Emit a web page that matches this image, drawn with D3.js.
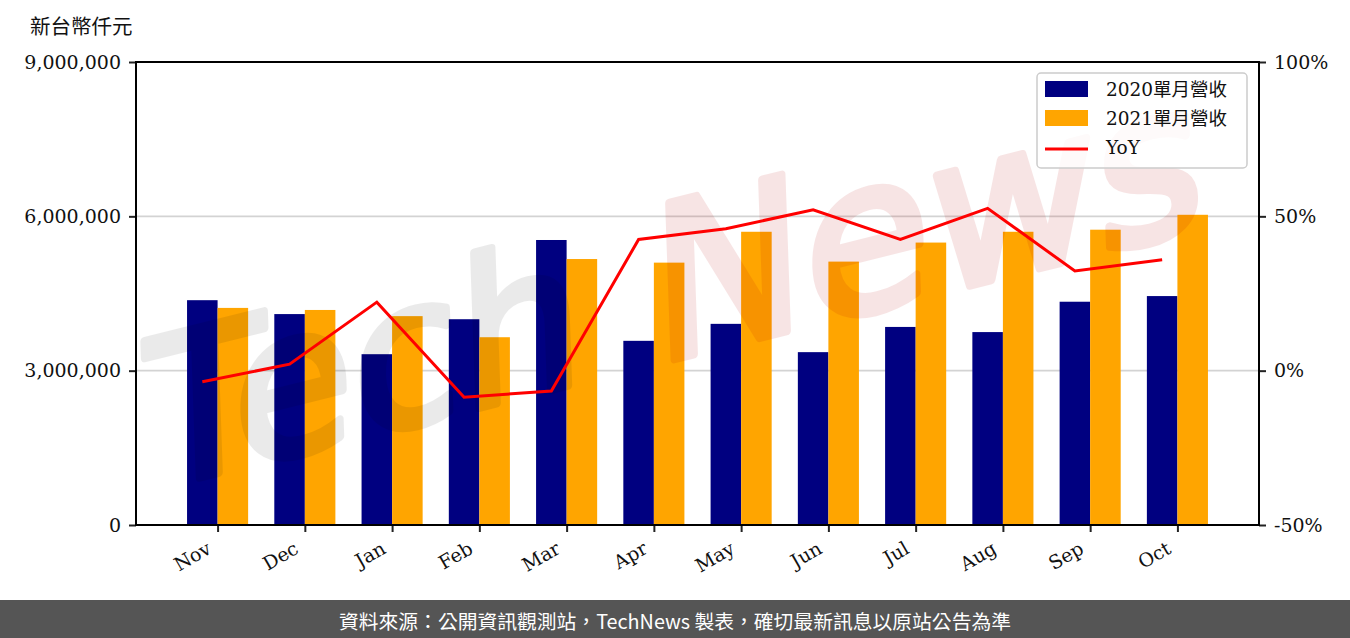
<!DOCTYPE html>
<html>
<head>
<meta charset="utf-8">
<script src="https://d3js.org/d3.v7.min.js"></script>
<style>
    body { margin: 0; background: #fff; }
    #chart text { font-family: "DejaVu Serif", "Noto Sans CJK TC", serif; }
</style>
</head>
<body>
<div id="chart"></div>
<script>
// monthly revenue, thousand NTD
var months = ['Nov','Dec','Jan','Feb','Mar','Apr','May','Jun','Jul','Aug','Sep','Oct'];
var rev2020 = [4370000, 4100000, 3320000, 4000000, 5540000, 3580000, 3910000, 3360000, 3850000, 3750000, 4340000, 4450000];
var rev2021 = [4220000, 4180000, 4060000, 3650000, 5170000, 5100000, 5700000, 5120000, 5490000, 5700000, 5740000, 6030000];
var yoy = [-3.6, 2.1, 22.2, -8.6, -6.6, 42.5, 46.0, 52.1, 42.5, 52.6, 32.3, 35.9];
var leftTicks = [0, 3000000, 6000000, 9000000];
var rightTicks = [-50, 0, 50, 100];
var seriesNames = ['2020單月營收', '2021單月營收', 'YoY'];

var width = 1350, height = 638;
var svg, x, yL, yR;
var barW = 0.35;

function init() {
    svg = d3.select('#chart').append('svg')
        .attr('width', width)
        .attr('height', height);

    x = d3.scaleLinear().domain([-0.935, 11.935]).range([136, 1259]);
    yL = d3.scaleLinear().domain([0, 9000000]).range([525, 62]);
    yR = d3.scaleLinear().domain([-50, 100]).range([525, 62]);

    drawGrid();
    drawBars();
    drawWatermark();
    drawLine();
    drawAxes();
    drawLegend();
    drawFooter();
}

function drawGrid() {
    svg.append('g').selectAll('line')
        .data(leftTicks)
        .enter().append('line')
        .attr('x1', 136).attr('x2', 1259)
        .attr('y1', d => yL(d)).attr('y2', d => yL(d))
        .attr('stroke', '#d3d3d3')
        .attr('stroke-width', 1.6);
}

function drawBars() {
    var g = svg.append('g');
    g.selectAll('.b20').data(rev2020).enter().append('rect')
        .attr('x', (d, i) => x(i - barW))
        .attr('width', x(barW) - x(0))
        .attr('y', d => yL(d))
        .attr('height', d => yL(0) - yL(d))
        .attr('fill', '#000080');
    g.selectAll('.b21').data(rev2021).enter().append('rect')
        .attr('x', (d, i) => x(i))
        .attr('width', x(barW) - x(0))
        .attr('y', d => yL(d))
        .attr('height', d => yL(0) - yL(d))
        .attr('fill', '#FFA500');
}

function drawWatermark() {
    // rough stand-in for the TechNews handwritten stamp
    var wm = svg.append('g')
        .attr('transform', 'translate(150,490) rotate(-14) skewX(-12)');
    wm.append('g').attr('opacity', 0.08)
        .append('text')
        .style('font-family', '"DejaVu Sans", sans-serif')
        .style('font-size', '200px')
        .attr('fill', '#000').attr('stroke', '#000').attr('stroke-width', 8)
        .attr('stroke-linejoin', 'round')
        .text('Tech');
    wm.append('g').attr('opacity', 0.1)
        .append('text')
        .style('font-family', '"DejaVu Sans", sans-serif')
        .style('font-size', '210px')
        .attr('x', 520)
        .attr('fill', '#b80000').attr('stroke', '#b80000').attr('stroke-width', 8)
        .attr('stroke-linejoin', 'round')
        .text('News');
}

function drawLine() {
    var line = d3.line()
        .x((d, i) => x(i - barW / 2))
        .y(d => yR(d));
    svg.append('path')
        .datum(yoy)
        .attr('d', line)
        .attr('fill', 'none')
        .attr('stroke', '#ff0000')
        .attr('stroke-width', 3);
}

function drawAxes() {
    var fmt = d3.format(',');

    var left = svg.append('g')
        .attr('transform', 'translate(136,0)')
        .call(d3.axisLeft(yL).tickValues(leftTicks).tickFormat(fmt).tickSize(7).tickPadding(8));
    var right = svg.append('g')
        .attr('transform', 'translate(1259,0)')
        .call(d3.axisRight(yR).tickValues(rightTicks).tickFormat(d => d + '%').tickSize(7).tickPadding(8));
    var bottom = svg.append('g')
        .attr('transform', 'translate(0,525)')
        .call(d3.axisBottom(x).tickValues(d3.range(months.length)).tickFormat(i => months[i]).tickSize(7));

    [left, right, bottom].forEach(function (g) {
        g.select('.domain').remove();
        g.selectAll('.tick line').attr('stroke', '#222').attr('stroke-width', 2);
        g.selectAll('.tick text')
            .attr('fill', '#111')
            .style('font-family', '"DejaVu Serif", serif')
            .style('font-size', '19px');
    });

    bottom.selectAll('.tick text')
        .attr('text-anchor', 'end')
        .attr('dy', null)
        .attr('y', null)
        .attr('dominant-baseline', 'middle')
        .attr('transform', 'translate(-8,23) rotate(-30)');

    // frame
    svg.append('rect')
        .attr('x', 136).attr('y', 62)
        .attr('width', 1259 - 136).attr('height', 525 - 62)
        .attr('fill', 'none')
        .attr('stroke', '#000')
        .attr('stroke-width', 2);

    svg.append('text')
        .attr('x', 30).attr('y', 34)
        .style('font-family', '"Noto Sans CJK TC", sans-serif')
        .style('font-size', '20.5px')
        .attr('fill', '#111')
        .text('新台幣仟元');
}

function drawLegend() {
    var lg = svg.append('g').attr('transform', 'translate(1037,73)');
    lg.append('rect')
        .attr('width', 210).attr('height', 95)
        .attr('rx', 4)
        .attr('fill', '#fff').attr('fill-opacity', 0.8)
        .attr('stroke', '#cccccc').attr('stroke-width', 1.5);
    var colors = ['#000080', '#FFA500'];
    colors.forEach(function (c, i) {
        lg.append('rect')
            .attr('x', 8).attr('y', 8 + i * 29)
            .attr('width', 43).attr('height', 16)
            .attr('fill', c);
    });
    lg.append('line')
        .attr('x1', 8).attr('x2', 51)
        .attr('y1', 76).attr('y2', 76)
        .attr('stroke', '#ff0000').attr('stroke-width', 3);
    lg.selectAll('.lt').data(seriesNames).enter().append('text')
        .attr('x', 69)
        .attr('y', (d, i) => 16 + i * 29)
        .attr('dominant-baseline', 'central')
        .style('font-family', '"DejaVu Serif", "Noto Sans CJK TC", serif')
        .style('font-size', '18.5px')
        .attr('fill', '#111')
        .text(d => d);
}

function drawFooter() {
    svg.append('rect')
        .attr('x', 0).attr('y', 600)
        .attr('width', width).attr('height', 38)
        .attr('fill', '#555555');
    svg.append('text')
        .attr('x', 675).attr('y', 620)
        .attr('text-anchor', 'middle')
        .attr('dominant-baseline', 'central')
        .style('font-family', '"Noto Sans CJK TC", sans-serif')
        .style('font-size', '19.8px')
        .attr('fill', '#fff')
        .text('資料來源：公開資訊觀測站，TechNews 製表，確切最新訊息以原站公告為準');
}

window.onload = init;
</script>
</body>
</html>
